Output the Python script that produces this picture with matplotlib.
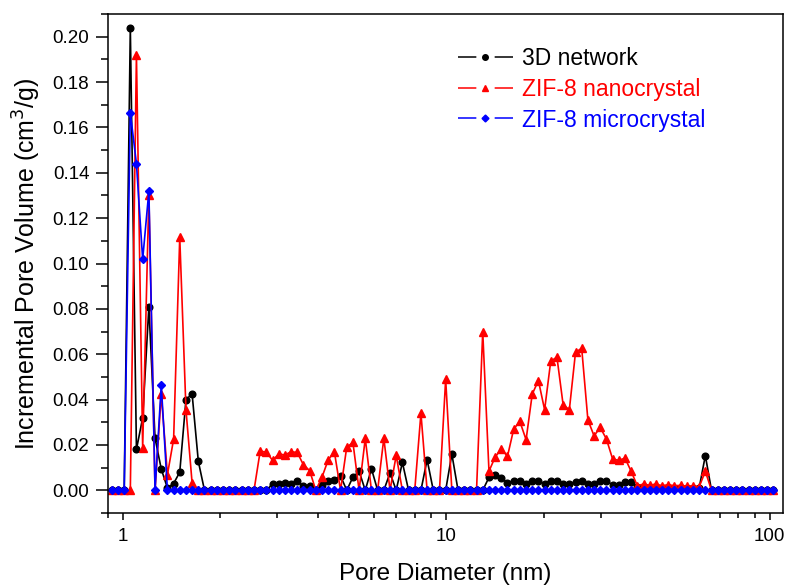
import matplotlib
matplotlib.use("Agg")
import matplotlib.pyplot as plt
from matplotlib.lines import Line2D
from matplotlib.ticker import MultipleLocator, NullFormatter, FixedLocator

plt.rcParams['font.family'] = ['Liberation Sans', 'DejaVu Sans']

# pore diameter grid (nm), shared by all three curves
pore_d = [0.924, 0.966, 1.010, 1.055, 1.102, 1.152, 1.204, 1.258, 1.315, 1.374,
          1.436, 1.500, 1.568, 1.638, 1.712, 1.789, 1.870, 1.954, 2.042, 2.134,
          2.230, 2.330, 2.435, 2.545, 2.659, 2.779, 2.904, 3.035, 3.171, 3.314,
          3.463, 3.619, 3.782, 3.952, 4.130, 4.316, 4.510, 4.713, 4.925, 5.147,
          5.378, 5.620, 5.873, 6.138, 6.414, 6.703, 7.004, 7.320, 7.649, 7.993,
          8.353, 8.729, 9.122, 9.533, 9.962, 10.41, 10.88, 11.37, 11.88, 12.41,
          12.97, 13.56, 14.17, 14.80, 15.47, 16.17, 16.89, 17.66, 18.45, 19.28,
          20.15, 21.05, 22.00, 22.99, 24.03, 25.11, 26.24, 27.42, 28.65, 29.94,
          31.29, 32.70, 34.17, 35.71, 37.31, 38.99, 40.75, 42.58, 44.50, 46.50,
          48.59, 50.78, 53.06, 55.45, 57.94, 60.55, 63.28, 66.12, 69.10, 72.21,
          75.46, 78.85, 82.40, 86.11, 89.99, 94.03, 98.27, 102.7]

# 3D network
net = [0, 0, 0, 0.204, 0.018, 0.032, 0.081, 0.023, 0.0094, 0.001,
       0.003, 0.008, 0.040, 0.0425, 0.0128, 0, 0, 0, 0, 0,
       0, 0, 0, 0, 0, 0, 0.0028, 0.0026, 0.0034, 0.003,
       0.0039, 0.0019, 0.0019, 0, 0.0025, 0.004, 0.0046, 0.0064, 0, 0.0058,
       0.0084, 0, 0.0095, 0, 0, 0.0077, 0, 0.0123, 0, 0,
       0, 0.0135, 0, 0, 0, 0.016, 0, 0, 0, 0,
       0, 0.0057, 0.0069, 0.0056, 0.0032, 0.0043, 0.0042, 0.003, 0.0043, 0.0043,
       0.0028, 0.0043, 0.0043, 0.003, 0.003, 0.0037, 0.004, 0.003, 0.003, 0.004,
       0.004, 0.0025, 0.0025, 0.0035, 0.0035, 0.0015, 0.0015, 0.0012, 0.0012, 0.001,
       0.001, 0.001, 0.001, 0.001, 0.001, 0.001, 0.0153, 0, 0, 0,
       0, 0, 0, 0, 0, 0, 0, 0]

# ZIF-8 nanocrystal
nano = [0, 0, 0, 0, 0.192, 0.0186, 0.130, 0, 0.0425, 0.0069,
        0.0226, 0.1115, 0.0355, 0.0032, 0, 0, 0, 0, 0, 0,
        0, 0, 0, 0, 0.0172, 0.0169, 0.0132, 0.016, 0.0156, 0.017,
        0.0167, 0.0112, 0.0087, 0, 0.0058, 0.0134, 0.017, 0, 0.019, 0.0211,
        0, 0.0229, 0, 0, 0.023, 0, 0.0154, 0, 0, 0,
        0.034, 0, 0, 0, 0.049, 0, 0, 0, 0, 0,
        0.070, 0.0084, 0.0147, 0.0182, 0.015, 0.027, 0.0304, 0.0223, 0.0424, 0.0484,
        0.0355, 0.057, 0.0587, 0.0377, 0.0355, 0.0609, 0.0626, 0.0311, 0.024, 0.0277,
        0.0226, 0.0138, 0.0132, 0.0142, 0.0084, 0.002, 0.0028, 0.0022, 0.0028, 0.002,
        0.0025, 0.002, 0.0022, 0.0018, 0.002, 0.0015, 0.0084, 0, 0, 0,
        0, 0, 0, 0, 0, 0, 0, 0]

# ZIF-8 microcrystal
micro = [0, 0, 0, 0.1665, 0.144, 0.1018, 0.132, 0, 0.0465] + [0] * 99

labels = ['3D network', 'ZIF-8 nanocrystal', 'ZIF-8 microcrystal']

fig = plt.figure(figsize=(7.89, 5.87), dpi=100)
ax = fig.add_axes([108 / 789, 1 - 513 / 587, 675 / 789, 499 / 587])

ax.plot(pore_d, net, color='black', lw=1.2, marker='o', ms=4.8)
ax.plot(pore_d, nano, color='red', lw=1.2, marker='^', ms=5.8)
ax.plot(pore_d, micro, color='blue', lw=1.2, marker='D', ms=4.3)

ax.set_xscale('log')
ax.set_xlim(0.9, 110)
ax.set_ylim(-0.01, 0.21)

ax.xaxis.set_major_locator(FixedLocator([1, 10, 100]))
ax.set_xticklabels(['1', '10', '100'])
ax.xaxis.set_minor_formatter(NullFormatter())
ax.yaxis.set_major_locator(MultipleLocator(0.02))
ax.yaxis.set_minor_locator(MultipleLocator(0.01))
ax.yaxis.set_major_formatter(plt.FormatStrFormatter('%.2f'))

ax.tick_params(axis='both', which='both', direction='out', top=False, right=False,
               width=1.1, labelsize=13.5)
ax.tick_params(axis='y', which='major', length=8.5, pad=5)
ax.tick_params(axis='y', which='minor', length=4.8)
ax.tick_params(axis='x', which='major', length=5, pad=6)
ax.tick_params(axis='x', which='minor', length=3.5)
for sp in ax.spines.values():
    sp.set_linewidth(1.1)

ax.set_xlabel('Pore Diameter (nm)', fontsize=17.5, labelpad=13)
ax.set_ylabel('Incremental Pore Volume (cm$^3$/g)', fontsize=18, labelpad=7)

# legend handles: broken line with a small marker in the gap
handles = []
for c, m, s in [('black', 'o', 4), ('red', '^', 4.5), ('blue', 'D', 3.5)]:
    seg = Line2D([], [], color=c, lw=1.1, linestyle=(0, (12, 12)))
    mk = Line2D([], [], color=c, marker=m, ms=s, linestyle='None')
    handles.append((seg, mk))
leg = ax.legend(handles, labels, loc='upper left', bbox_to_anchor=(0.5185, 0.934),
                frameon=False, fontsize=16.5, borderpad=0, handlelength=2.4,
                handletextpad=0.38, labelspacing=0.34, borderaxespad=0)
for t, c in zip(leg.get_texts(), ['black', 'red', 'blue']):
    t.set_color(c)

fig.savefig('out.png', dpi=100)
